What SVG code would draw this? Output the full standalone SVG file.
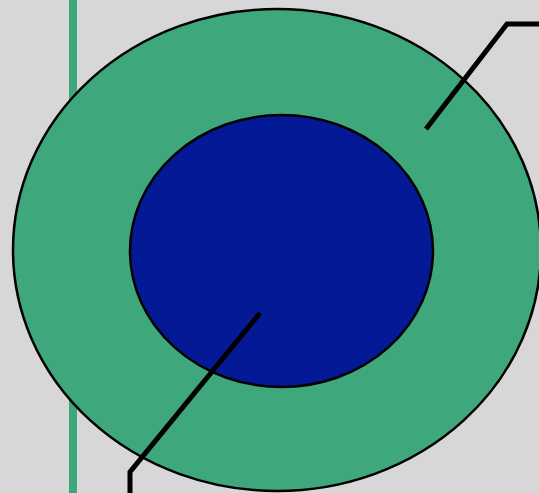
<svg xmlns="http://www.w3.org/2000/svg" width="539" height="493" viewBox="0 0 539 493">
<style>
.lead{fill:none;stroke:#000;stroke-width:5;stroke-linejoin:miter}
.shape{stroke:#000;stroke-width:2.5}
</style>
<rect x="0" y="0" width="539" height="493" fill="#d7d7d7"/>
<rect id="bar" x="69" y="0" width="8" height="493" fill="#3fa77c"/>
<g id="outer"><ellipse class="shape" cx="277" cy="250" rx="264" ry="241" fill="#3fa77c"/></g>
<g id="inner"><ellipse class="shape" cx="281.5" cy="251" rx="151.5" ry="136" fill="#031996"/></g>
<g id="connectors">
<polyline class="lead" points="426,129 507,24 541,24"/>
<polyline class="lead" points="260,313 130,472 130,495"/>
</g>
</svg>
